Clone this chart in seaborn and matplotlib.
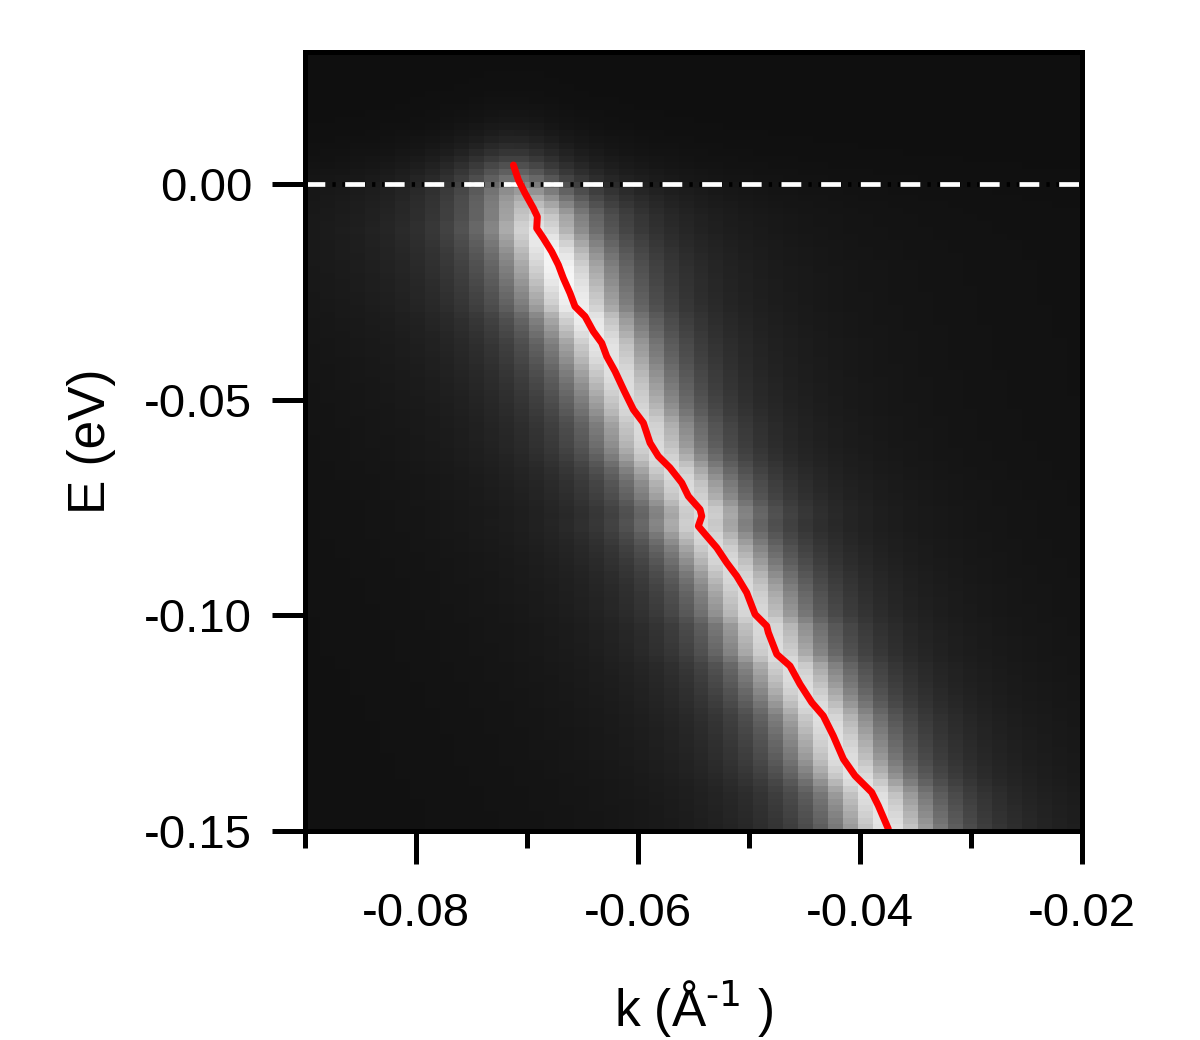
import numpy as np
import matplotlib
matplotlib.use("Agg")
import matplotlib.pyplot as plt
import seaborn as sns

# dispersion (MDC peak positions)
disp_k = [-0.07123, -0.07078, -0.07018, -0.06943, -0.06907, -0.06913, -0.06853,
          -0.06778, -0.06718, -0.06673, -0.06613, -0.06568, -0.06477, -0.06403,
          -0.06327, -0.06282, -0.06207, -0.06126, -0.06042, -0.05952, -0.05892,
          -0.05817, -0.05712, -0.05606, -0.05547, -0.05441, -0.05426, -0.05457,
          -0.05381, -0.05291, -0.05201, -0.05111, -0.05021, -0.04946, -0.04841,
          -0.04826, -0.04750, -0.04631, -0.04541, -0.04435, -0.04331, -0.04241,
          -0.04150, -0.04045, -0.03895, -0.03835, -0.03745]
disp_E = [0.00440, 0.00093, -0.00215, -0.00563, -0.00757, -0.01026, -0.01257,
          -0.01567, -0.01875, -0.02183, -0.02530, -0.02840, -0.03072, -0.03419,
          -0.03688, -0.03998, -0.04345, -0.04792, -0.05231, -0.05539, -0.06003,
          -0.06313, -0.06581, -0.06928, -0.07238, -0.07546, -0.07701, -0.07933,
          -0.08164, -0.08433, -0.08781, -0.09090, -0.09475, -0.09977, -0.10247,
          -0.10401, -0.10903, -0.11174, -0.11597, -0.12021, -0.12331, -0.12794,
          -0.13333, -0.13720, -0.14104, -0.14414, -0.14954]

# band brightness and width
amp_E = [0.03, 0.0, -0.02, -0.05, -0.10, -0.15]
amp_val = [0.92, 0.92, 0.92, 0.80, 0.80, 0.84]
hwhm = 0.0046          # Lorentzian half width in k
kT = 0.0045            # Fermi edge width
background = 0.06

# detector grid (52 x 120 cells)
k_centers = np.linspace(-0.09, -0.02, 53)[:-1] + 0.07 / 104
E_centers = np.linspace(-0.15, 0.0306, 121)[:-1] + 0.1806 / 240

kk, EE = np.meshgrid(k_centers, E_centers)
k0 = np.interp(EE, disp_E[::-1], disp_k[::-1])
amp = np.interp(EE, amp_E[::-1], amp_val[::-1])
fermi = 1.0 / (np.exp(EE / kT) + 1.0)
intensity = background + amp * fermi / (1.0 + ((kk - k0) / hwhm) ** 2)

sns.set_theme(style="ticks")
plt.rcParams["font.family"] = ["Liberation Sans", "DejaVu Sans"]
plt.rcParams["mathtext.default"] = "regular"

fig = plt.figure(figsize=(12, 10.4), dpi=100)
ax = fig.add_axes([0.2542, 0.201, 0.6475, 0.749])

ax.pcolormesh(k_centers, E_centers, intensity, cmap="gray",
              vmin=0, vmax=1, shading="nearest")

# Fermi level marker
ax.axhline(0, color="black", linewidth=3.4, linestyle=(0.6, (0.7, 1.4)))
ax.axhline(0, color="white", linewidth=3.4, linestyle=(0.0, (4.2, 4.2)))

sns.lineplot(x=disp_k, y=disp_E, sort=False, estimator=None,
             color="red", linewidth=5.0, ax=ax)

ax.set_xlim(-0.09, -0.02)
ax.set_ylim(-0.15, 0.0306)
ax.set_xticks([-0.08, -0.06, -0.04, -0.02])
ax.set_xticklabels(["-0.08", "-0.06", "-0.04", "-0.02"])
ax.set_xticks([-0.09, -0.07, -0.05, -0.03], minor=True)
ax.set_yticks([0.0, -0.05, -0.10, -0.15])
ax.set_yticklabels(["0.00", "-0.05", "-0.10", "-0.15"])

for s in ax.spines.values():
    s.set_linewidth(3.6)
    s.set_color("black")
ax.tick_params(axis="both", which="major", direction="out", length=24,
               width=3.6, color="black", labelsize=34, labelcolor="black")
ax.tick_params(axis="x", which="major", pad=20)
ax.tick_params(axis="y", which="major", pad=14)
ax.tick_params(axis="x", which="minor", direction="out", length=12.5,
               width=3.6, color="black")

ax.set_xlabel(r"k (Å$^{\text{-1}}$ )", fontsize=37, color="black", labelpad=31)
ax.set_ylabel("E (eV)", fontsize=37, color="black", labelpad=20)

fig.savefig("out.png", dpi=100)
